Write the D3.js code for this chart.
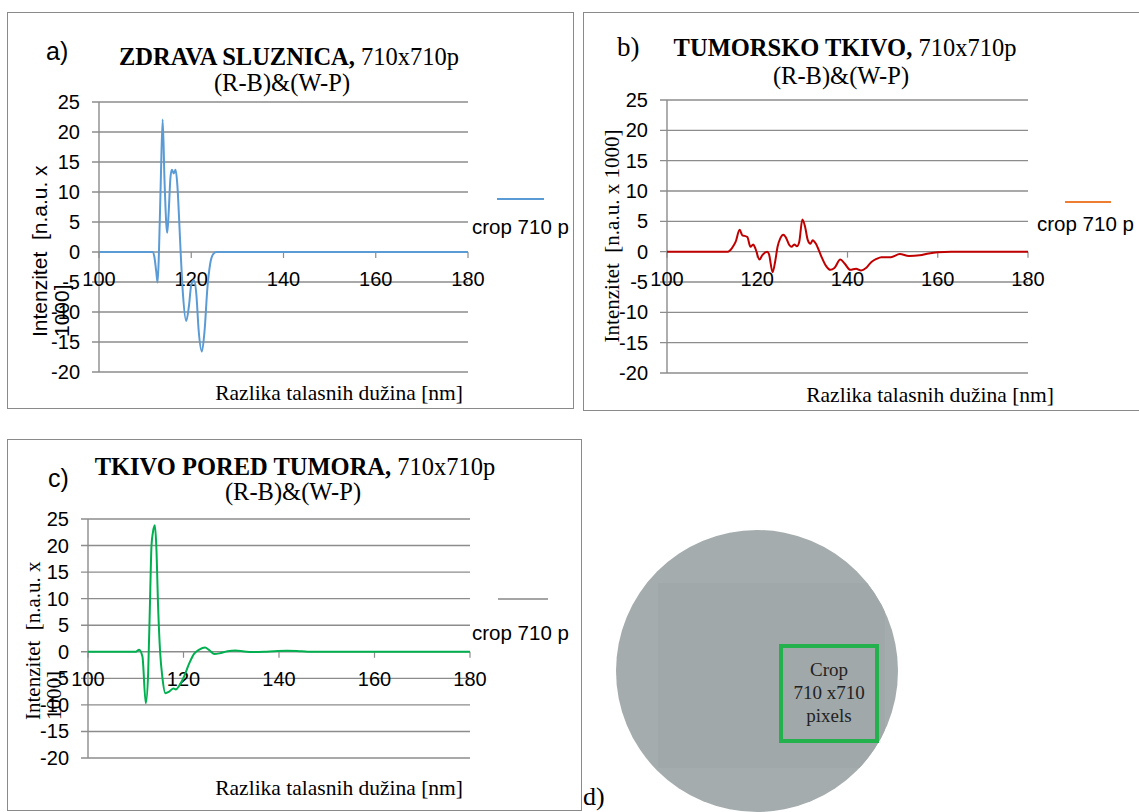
<!DOCTYPE html>
<html><head><meta charset="utf-8">
<script src="https://cdn.jsdelivr.net/npm/d3@7/dist/d3.min.js"></script>
<style>body{margin:0;background:#fff}svg{display:block}</style>
</head><body>
<script>
// ---------- DATA ----------
const yTicks = [25,20,15,10,5,0,-5,-10,-15,-20];
const xTicks = [100,120,140,160,180];
const legendLabel = "crop 710 p";
const xTitle = "Razlika talasnih dužina [nm]";

// a) ZDRAVA SLUZNICA
const aX = [100,111.6,112.0,112.4,112.7,113.0,113.4,113.8,114.2,114.6,114.8,115.1,115.5,115.8,116.2,116.6,117.0,117.4,117.7,118.2,118.9,119.5,120.0,120.6,121.1,121.6,122.3,122.9,123.5,124.1,124.8,125.5,180];
const aY = [0,0,-0.8,-3.2,-5.1,0,12,22.1,12,4.5,3.2,6.5,12.5,13.7,13.1,13.7,11,5,0,-7,-11.5,-9,-5.5,-4.7,-7,-13,-16.6,-13,-6,-2,-0.3,0,0];

// b) TUMORSKO TKIVO
const bX = [100,113.5,114.4,115.2,116.1,116.7,117.2,117.8,118.5,119.1,119.6,120.5,121.1,122.2,122.6,123.4,124.0,124.5,125.1,125.8,126.3,127.1,127.6,128.2,128.8,129.3,130.0,130.6,131.2,131.8,132.3,133.0,134.1,135.2,136.2,137.1,138.4,139.4,140.6,141.9,143.0,144.1,145.3,146.4,147.5,149.6,151.6,153.6,156.0,158.0,160.0,163.0,180];
const bY = [0,0,0.6,1.6,3.6,2.7,2.6,2.4,0.8,1.2,0.5,-1.3,-0.6,0,-0.4,-3.4,-1.5,0.8,2.2,2.8,2.4,1.1,0.8,1.2,0.9,1.6,5.3,4.1,1.9,1.3,1.9,1.3,-0.6,-2.3,-3.0,-2.7,-1.3,-2.0,-3.0,-2.8,-3.1,-2.7,-1.7,-1.2,-0.9,-0.9,-0.4,-0.7,-0.6,-0.3,-0.1,0,0];

// c) TKIVO PORED TUMORA
const cX = [100,110.0,110.7,111.4,112.1,112.6,113.0,113.3,113.6,114.0,114.3,114.7,115.1,115.6,116.2,117.0,117.9,118.4,119.1,120.1,121.2,122.2,123.3,124.5,125.4,126.4,127.5,129.2,130.9,132.7,134.8,136.9,139.0,141.7,143.8,146.0,180];
const cY = [0,0,0.4,-0.9,-9.7,-4,10,20,22.5,23.8,20,8,0,-5,-7.8,-7.5,-6.9,-7.1,-6.4,-4.7,-2.2,-0.4,0.4,0.8,0.3,-0.4,-0.3,0.1,0.25,0.05,-0.05,0,0.1,0.2,0.15,0,0];

const panels = [
 {key:"a", tag:"a)", bold:"ZDRAVA SLUZNICA,", rest:" 710x710p", sub:"(R-B)&(W-P)", xs:aX, ys:aY,
  line:"#5b9bd5", legendColor:"#5b9bd5",
  frame:[7,12,573,408], plot:[99,468,102,372], titleX:289, subX:282, titleY:[65,91],
  tagPos:[46,60], tagFont:"Liberation Sans", tagSize:25,
  legend:[497,544,199,472,234], xTitlePos:[463,400],
  yTitle:["Intenzitet  [n.a.u. x","1000]"], yTitleFont:"Liberation Sans", yTitlePos:[[47,337],[69,337]], yAnchor:"start"},
 {key:"b", tag:"b)", bold:"TUMORSKO TKIVO,", rest:" 710x710p", sub:"(R-B)&(W-P)", xs:bX, ys:bY,
  line:"#c00000", legendColor:"#ed7d31",
  frame:[583,12,1145,410], plot:[667,1028,100,373], titleX:845, subX:841, titleY:[56,84],
  tagPos:[617,56], tagFont:"Liberation Serif", tagSize:27,
  legend:[1065,1111,202,1037,231], xTitlePos:[1054,402],
  yTitle:["Intenzitet  [n.a.u. x 1000]"], yTitleFont:"Liberation Serif", yTitlePos:[[619,236]], yAnchor:"middle"},
 {key:"c", tag:"c)", bold:"TKIVO PORED TUMORA,", rest:" 710x710p", sub:"(R-B)&(W-P)", xs:cX, ys:cY,
  line:"#00b050", legendColor:"#a5a5a5",
  frame:[7,439,581,810], plot:[88,470,519,758], titleX:295, subX:293, titleY:[475,500],
  tagPos:[48,487], tagFont:"Liberation Sans", tagSize:25,
  legend:[498,548,599,472,640], xTitlePos:[463,795],
  yTitle:["Intenzitet  [n.a.u. x","1000]"], yTitleFont:"Liberation Serif", yTitlePos:[[40,720],[61,720]], yAnchor:"start"}
];

// ---------- DRAW ----------
const svg = d3.select("body").append("svg").attr("width",1139).attr("height",812);
const grid = "#8c8c8c";

panels.forEach(p => {
  const g = svg.append("g");
  const [fx0,fy0,fx1,fy1] = p.frame;
  g.append("rect").attr("x",fx0+0.5).attr("y",fy0+0.5).attr("width",fx1-fx0).attr("height",fy1-fy0)
    .attr("fill","none").attr("stroke","#8a8a8a").attr("stroke-width",1);
  const [px0,px1,py0,py1] = p.plot;
  const x = d3.scaleLinear().domain([100,180]).range([px0,px1]);
  const y = d3.scaleLinear().domain([25,-20]).range([py0,py1]);

  // gridlines + y tick labels
  g.append("g").selectAll("line").data(yTicks).join("line")
    .attr("x1",px0-7).attr("x2",px1).attr("y1",d=>y(d)).attr("y2",d=>y(d))
    .attr("stroke",grid).attr("stroke-width",1.4);
  g.append("line").attr("x1",px0).attr("x2",px0).attr("y1",y(25)).attr("y2",y(-20))
    .attr("stroke",grid).attr("stroke-width",1.4);
  g.append("g").selectAll("line").data(xTicks).join("line")
    .attr("x1",d=>x(d)).attr("x2",d=>x(d)).attr("y1",y(0)).attr("y2",y(0)+6)
    .attr("stroke",grid).attr("stroke-width",1.2);
  g.append("g").selectAll("text").data(yTicks).join("text")
    .attr("x",px0-19).attr("y",d=>y(d)).attr("dy","0.35em").attr("text-anchor","end")
    .attr("font-family","Liberation Sans, Arial").attr("font-size",20).attr("fill","#000").text(d=>d);
  g.append("g").selectAll("text").data(xTicks).join("text")
    .attr("x",d=>x(d)).attr("y",y(0)+27).attr("dy","0.35em").attr("text-anchor","middle")
    .attr("font-family","Liberation Sans, Arial").attr("font-size",20).attr("fill","#000").text(d=>d);

  // series
  const pts = p.xs.map((v,i)=>[v,p.ys[i]]);
  g.append("path").datum(pts)
    .attr("d", d3.line().x(d=>x(d[0])).y(d=>y(d[1])).curve(d3.curveMonotoneX))
    .attr("fill","none").attr("stroke",p.line).attr("stroke-width",2).attr("stroke-linejoin","round");

  // title
  const t = g.append("text").attr("x",p.titleX).attr("y",p.titleY[0]).attr("text-anchor","middle")
    .attr("font-family","Liberation Serif, Times New Roman").attr("font-size",24.5).attr("fill","#000");
  t.append("tspan").attr("font-weight","bold").text(p.bold);
  t.append("tspan").text(p.rest);
  g.append("text").attr("x",p.subX).attr("y",p.titleY[1]).attr("text-anchor","middle")
    .attr("font-family","Liberation Serif, Times New Roman").attr("font-size",24.5).attr("fill","#000").text(p.sub);
  g.append("text").attr("x",p.tagPos[0]).attr("y",p.tagPos[1])
    .attr("font-family",p.tagFont).attr("font-size",p.tagSize).attr("fill","#000").text(p.tag);

  // legend
  const [lx0,lx1,ly,tx,ty] = p.legend;
  g.append("line").attr("x1",lx0).attr("x2",lx1).attr("y1",ly).attr("y2",ly)
    .attr("stroke",p.legendColor).attr("stroke-width",2);
  g.append("text").attr("x",tx).attr("y",ty).attr("font-family","Liberation Sans, Arial")
    .attr("font-size",20.5).attr("fill","#000").text(legendLabel);

  // axis titles
  g.append("text").attr("x",p.xTitlePos[0]).attr("y",p.xTitlePos[1]).attr("text-anchor","end")
    .attr("font-family","Liberation Serif, Times New Roman").attr("font-size",21.5).attr("fill","#000").text(xTitle);
  p.yTitle.forEach((s,i)=>{
    const [ax,ay] = p.yTitlePos[i];
    g.append("text").attr("transform",`translate(${ax},${ay}) rotate(-90)`)
      .attr("text-anchor",p.yAnchor).attr("font-family",p.yTitleFont).attr("font-size",21)
      .attr("fill","#000").style("white-space","pre").text(s);
  });
});

// ---------- d) crop illustration ----------
const dCircle = {cx:757, cy:671, r:141};
const gd = svg.append("g");
const clip = gd.append("clipPath").attr("id","cc");
clip.append("circle").attr("cx",dCircle.cx).attr("cy",dCircle.cy).attr("r",dCircle.r);
gd.append("circle").attr("cx",dCircle.cx).attr("cy",dCircle.cy).attr("r",dCircle.r).attr("fill","#a5acad");
gd.append("rect").attr("clip-path","url(#cc)").attr("x",658).attr("y",583).attr("width",227).attr("height",185).attr("fill","#a0a8aa");
gd.append("rect").attr("x",781).attr("y",646).attr("width",96).attr("height",95)
  .attr("fill","none").attr("stroke","#22b14c").attr("stroke-width",4);
["Crop","710 x710","pixels"].forEach((s,i)=>{
  gd.append("text").attr("x",829).attr("y",676+i*23).attr("text-anchor","middle")
    .attr("font-family","Liberation Serif, Times New Roman").attr("font-size",19).attr("fill","#222").text(s);
});
gd.append("text").attr("x",583).attr("y",805).attr("font-family","Liberation Serif, Times New Roman")
  .attr("font-size",26).attr("fill","#000").text("d)");
</script>
</body></html>
